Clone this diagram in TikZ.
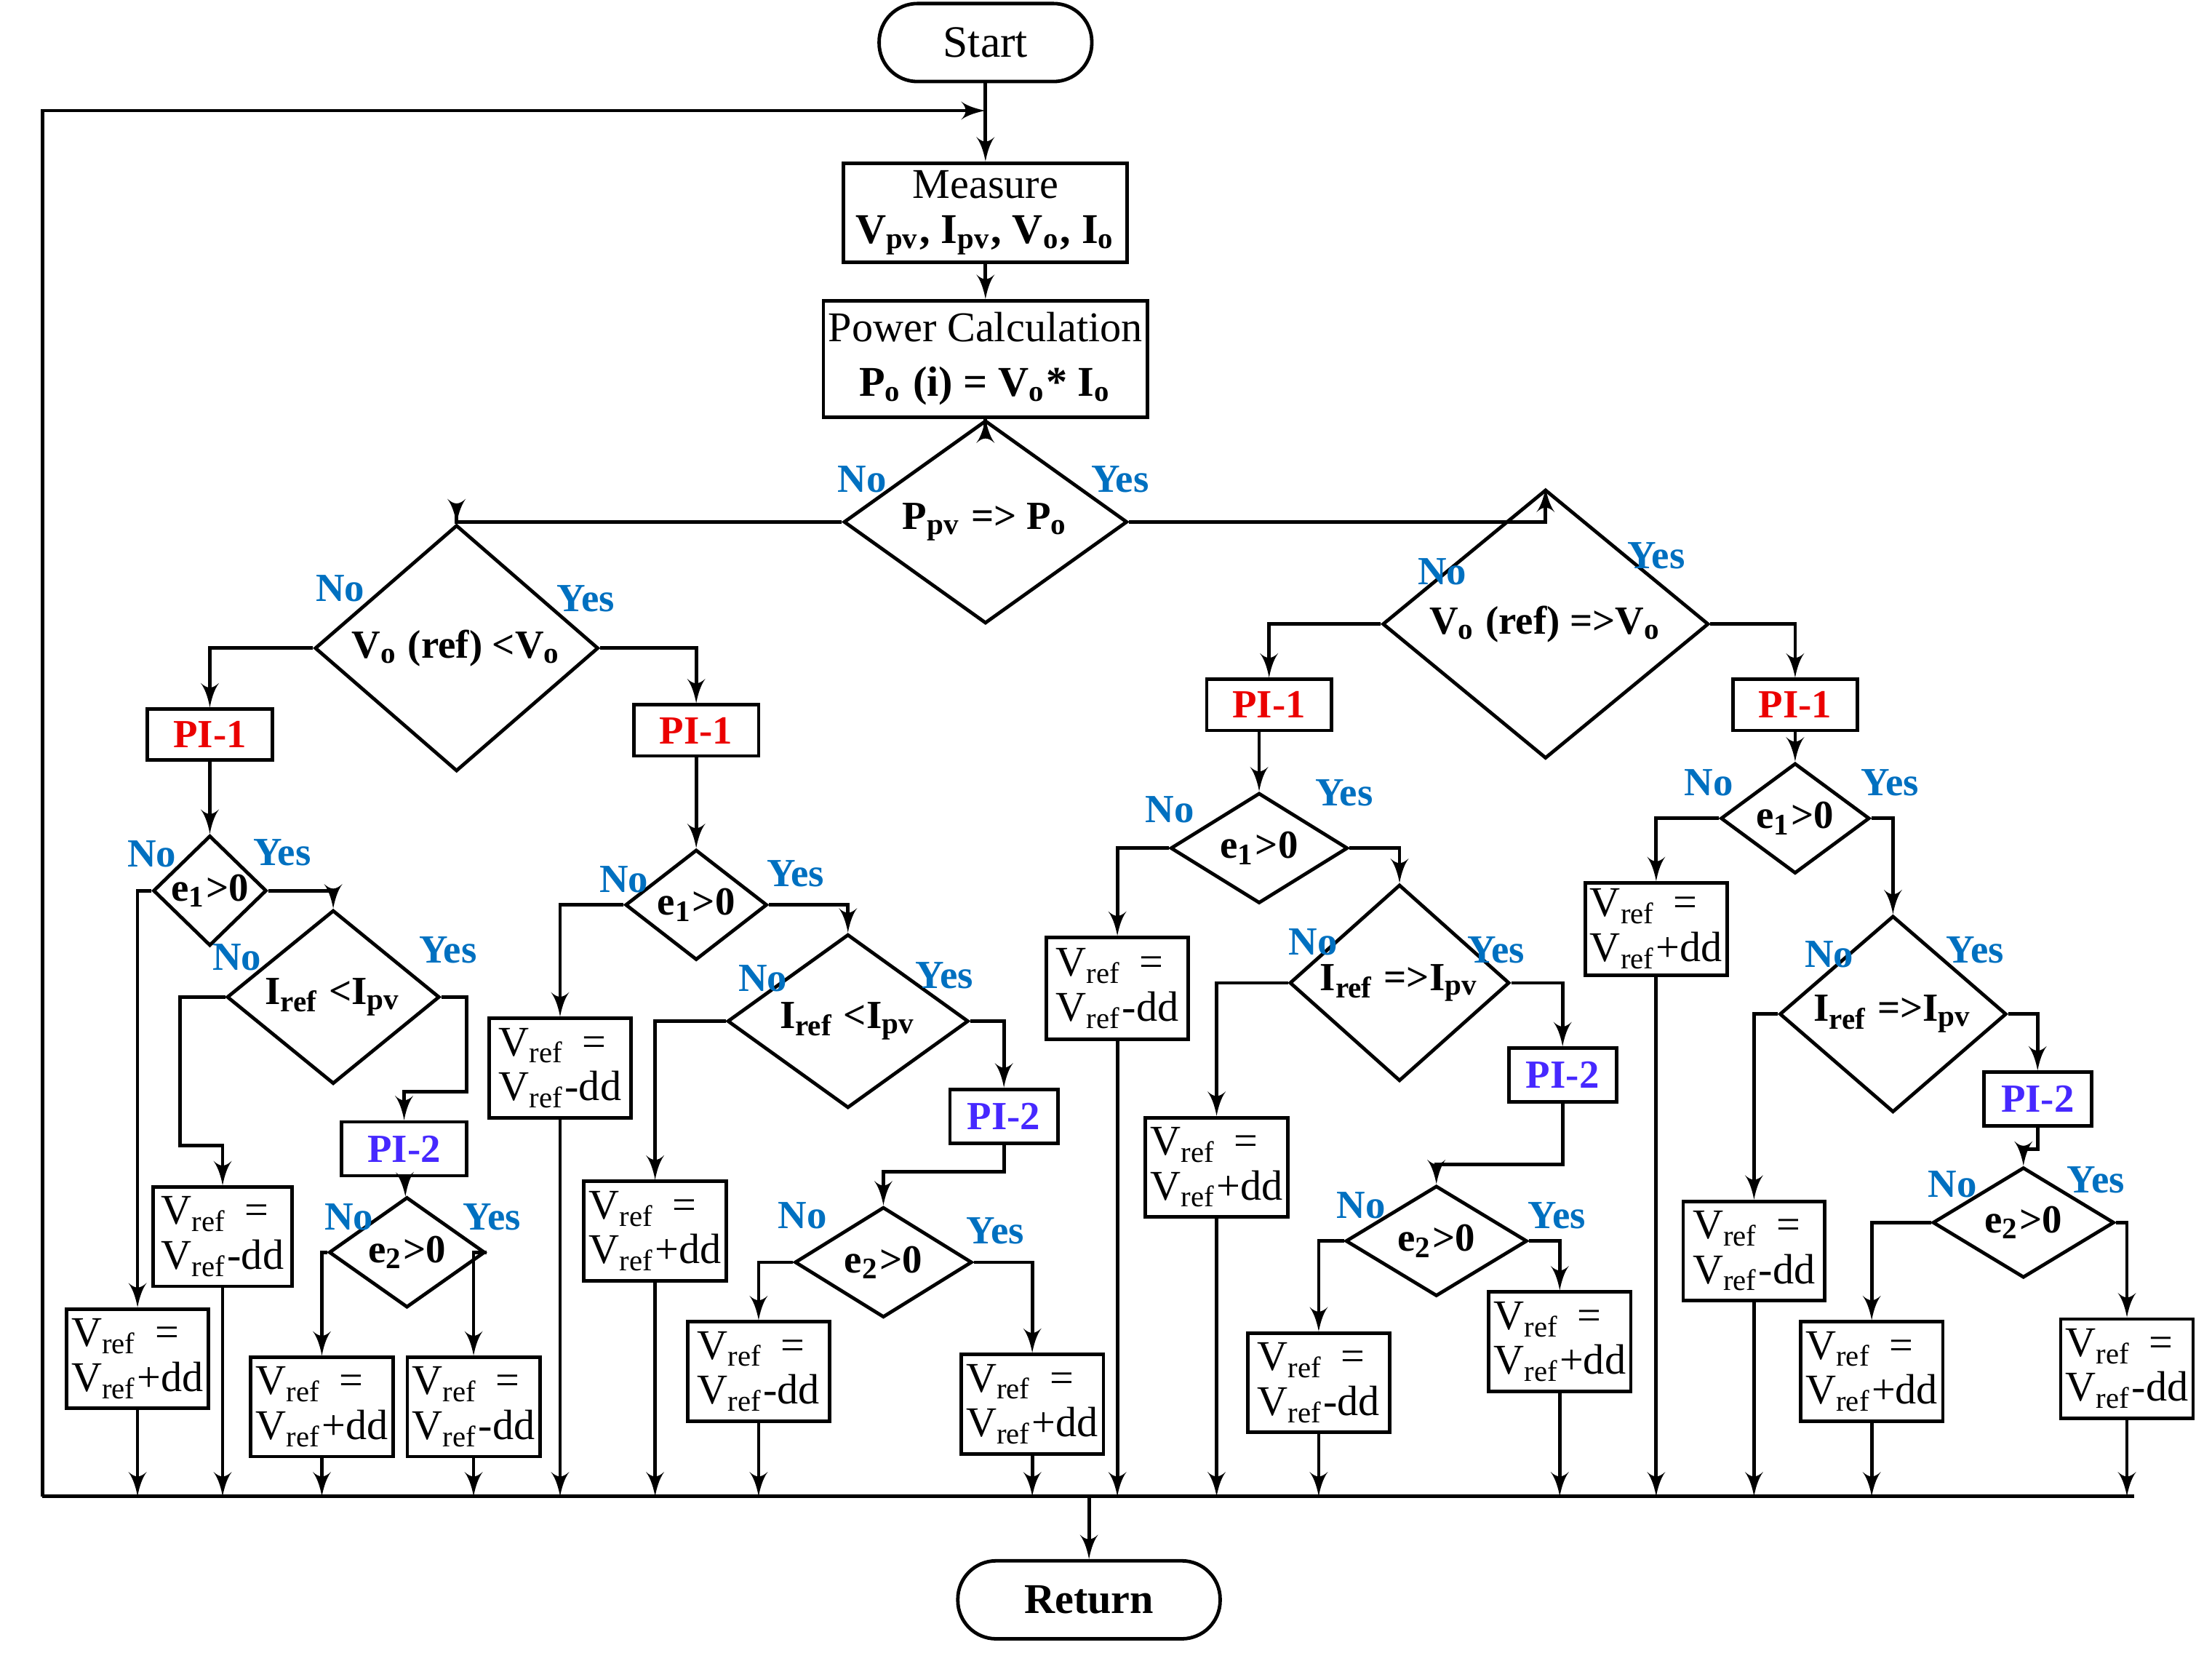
\documentclass[tikz,border=0pt]{standalone}
\usepackage{fontspec}
\setmainfont{Liberation Serif}
\usetikzlibrary{calc,arrows,positioning,shapes.geometric}
\definecolor{lblue}{RGB}{0,112,192}
\definecolor{pired}{RGB}{235,0,0}
\definecolor{pipurple}{RGB}{70,40,255}
\newcommand{\vrf}[1]{V\textsubscript{ref} \,=\\V\textsubscript{ref}#1}
\newcommand{\sub}[1]{\textsubscript{#1}}

\begin{document}
\begin{tikzpicture}[>=latex', x=0.1mm, y=-0.1mm, line width=0.7pt]
			\tikzset{block/.style= {draw, rectangle, align=center, inner sep=1pt, font=\fontsize{8.5}{9}\selectfont},
				vbox/.style= {draw, rectangle, align=left, inner sep=1pt, minimum width=10mm, minimum height=7mm, font=\fontsize{8.5}{9}\selectfont},
				term/.style= {draw, rounded corners=2.7mm, minimum height=5.5mm, font=\fontsize{9}{10}\selectfont},
				dec/.style= {draw, diamond, inner sep=0pt, font=\bfseries\fontsize{8}{9}\selectfont},
				pione/.style= {draw, rectangle, minimum width=8.8mm, minimum height=3.6mm, inner sep=1pt, text=pired, font=\bfseries\fontsize{8}{9}\selectfont},
				pitwo/.style= {pione, minimum width=7.6mm, minimum height=3.8mm, text=pipurple},
				lbl/.style= {text=lblue, font=\bfseries\fontsize{8}{9}\selectfont},
			}
			\useasboundingbox (0,0) rectangle (1560,1165);

			% main line
			\node [term, minimum width=15mm] (start) at (695,30) {Start};
			\node [block, minimum width=20mm, minimum height=7mm] (meas) at (695,150) {Measure\\\textbf{V\sub{pv}, I\sub{pv}, V\sub{o}, I\sub{o}}};
			\node [block, minimum width=21.5mm, minimum height=8.2mm] (pcalc) at (695,253) {Power Calculation\\[2pt]\textbf{P\sub{o} (i) = V\sub{o}* I\sub{o}}};
			\node [dec, minimum width=20mm, minimum height=9.2mm] (d0) at (695,368) {P\sub{pv} => P\sub{o}};
			\node [dec, minimum width=20mm, minimum height=7mm] (dl) at (322,457) {V\sub{o} (ref) <V\sub{o}};
			\node [dec, minimum width=23mm, minimum height=8.5mm] (dr) at (1090,440) {V\sub{o} (ref) =>V\sub{o}};
			\node [term, minimum width=18.5mm, font=\bfseries\fontsize{8.5}{9}\selectfont] (ret) at (768,1128) {Return};

			\node [pione] (piA) at (148,518) {PI-1};
			\node [pione] (piB) at (491,515) {PI-1};
			\node [pione] (piC) at (895,497) {PI-1};
			\node [pione] (piD) at (1266,497) {PI-1};

			% branch A
			\node [dec, minimum width=8mm, minimum height=5.8mm] (eA) at (148,628) {e\sub{1}>0};
			\node [vbox] (bA1) at (97,958) {\vrf{+dd}};
			\node [dec, minimum width=15mm, minimum height=7.5mm] (iA) at (235,703) {I\sub{ref} <I\sub{pv}};
			\node [vbox, minimum width=9.8mm] (bA2) at (157,872) {\vrf{-dd}};
			\node [pitwo, minimum width=8.8mm] (ptA) at (285,810) {PI-2};
			\node [dec, minimum width=11mm, minimum height=5.8mm] (e2A) at (287,883) {e\sub{2}>0};
			\node [vbox, minimum width=9.8mm] (bA3) at (227,992) {\vrf{+dd}};
			\node [vbox, minimum width=8.8mm] (bA4) at (334,992) {\vrf{-dd}};

			% branch B
			\node [dec, minimum width=10mm, minimum height=5.5mm] (eB) at (491,638) {e\sub{1}>0};
			\node [vbox] (bB1) at (395,753) {\vrf{-dd}};
			\node [dec, minimum width=17mm, minimum height=7.5mm] (iB) at (598,720) {I\sub{ref} <I\sub{pv}};
			\node [vbox] (bB2) at (462,868) {\vrf{+dd}};
			\node [pitwo] (ptB) at (708,787) {PI-2};
			\node [dec, minimum width=12.5mm, minimum height=6.2mm] (e2B) at (623,890) {e\sub{2}>0};
			\node [vbox] (bB3) at (535,967) {\vrf{-dd}};
			\node [vbox] (bB4) at (728,990) {\vrf{+dd}};

			% branch C
			\node [dec, minimum width=12.5mm, minimum height=6.2mm] (eC) at (888,598) {e\sub{1}>0};
			\node [vbox, minimum height=7.2mm] (bC1) at (788,697) {\vrf{-dd}};
			\node [dec, minimum width=15.5mm, minimum height=7.5mm] (iC) at (987,693) {I\sub{ref} =>I\sub{pv}};
			\node [vbox] (bC2) at (858,823) {\vrf{+dd}};
			\node [pitwo] (ptC) at (1102,758) {PI-2};
			\node [dec, minimum width=12.8mm, minimum height=6.2mm] (e2C) at (1013,875) {e\sub{2}>0};
			\node [vbox] (bC3) at (930,975) {\vrf{-dd}};
			\node [vbox] (bC4) at (1100,946) {\vrf{+dd}};

			% branch D
			\node [dec, minimum width=10.5mm, minimum height=5mm] (eD) at (1266,577) {e\sub{1}>0};
			\node [vbox, minimum height=6.5mm] (bD1) at (1168,655) {\vrf{+dd}};
			\node [dec, minimum width=16mm, minimum height=8mm] (iD) at (1335,715) {I\sub{ref} =>I\sub{pv}};
			\node [vbox] (bD2) at (1237,882) {\vrf{-dd}};
			\node [pitwo] (ptD) at (1437,775) {PI-2};
			\node [dec, minimum width=12.8mm, minimum height=6mm] (e2D) at (1427,862) {e\sub{2}>0};
			\node [vbox, minimum width=9.8mm] (bD3) at (1320,967) {\vrf{+dd}};
			\node [vbox, minimum width=9mm] (bD4) at (1500,965) {\vrf{-dd}};

			% Yes / No
			\node [lbl] (n0) at (608,338) {No};   \node [lbl] (y0) at (790,338) {Yes};
			\node [lbl] (nl) at (240,415) {No};   \node [lbl] (yl) at (413,422) {Yes};
			\node [lbl] (nr) at (1017,403) {No};  \node [lbl] (yr) at (1168,392) {Yes};
			\node [lbl] (nA1) at (107,602) {No};  \node [lbl] (yA1) at (199,601) {Yes};
			\node [lbl] (nA2) at (167,675) {No};  \node [lbl] (yA2) at (316,670) {Yes};
			\node [lbl] (nA3) at (246,858) {No};  \node [lbl] (yA3) at (347,858) {Yes};
			\node [lbl] (nB1) at (440,620) {No};  \node [lbl] (yB1) at (561,616) {Yes};
			\node [lbl] (nB2) at (538,690) {No};  \node [lbl] (yB2) at (666,688) {Yes};
			\node [lbl] (nB3) at (566,857) {No};  \node [lbl] (yB3) at (702,868) {Yes};
			\node [lbl] (nC1) at (825,571) {No};  \node [lbl] (yC1) at (948,559) {Yes};
			\node [lbl] (nC2) at (926,664) {No};  \node [lbl] (yC2) at (1055,670) {Yes};
			\node [lbl] (nC3) at (960,850) {No};  \node [lbl] (yC3) at (1098,857) {Yes};
			\node [lbl] (nD1) at (1205,552) {No}; \node [lbl] (yD1) at (1333,552) {Yes};
			\node [lbl] (nD2) at (1290,673) {No}; \node [lbl] (yD2) at (1393,670) {Yes};
			\node [lbl] (nD3) at (1377,835) {No}; \node [lbl] (yD3) at (1478,832) {Yes};

			\coordinate (busL) at (30,1055);
			\coordinate (busR) at (1505,1055);
			\coordinate (busM) at (768,1055);
			\coordinate (loopin) at (695,78);

			\path[draw, ->] (start) -- (meas);
			\path[draw, ->] (meas) -- (pcalc);
			\path[draw, ->] (pcalc) -- (d0);
			\path[draw, ->] (d0.west) -| (dl);
			\path[draw, ->] (d0.east) -| (dr);
			\path[draw, ->] (dl.west) -| (piA);
			\path[draw, ->] (dl.east) -| (piB);
			\path[draw, ->] (dr.west) -| (piC);
			\path[draw, ->] (dr.east) -| (piD);

			% A
			\path[draw, ->] (piA) -- (eA);
			\path[draw, ->] (eA.west) -| (bA1);
			\path[draw, ->] (eA.east) -| (iA);
			\path[draw, ->] (iA.west) -- ++(-32,0) |- ($(bA2.north)+(0,-28)$) -- (bA2.north);
			\path[draw, ->] (iA.east) -- ++(18,0) |- ($(ptA.north)+(0,-20)$) -- (ptA.north);
			\path[draw, ->] (ptA) -- (e2A);
			\path[draw, ->] (e2A.west) -| (bA3);
			\path[draw, ->] (e2A.east) -| (bA4);
			% B
			\path[draw, ->] (piB) -- (eB);
			\path[draw, ->] (eB.west) -| (bB1);
			\path[draw, ->] (eB.east) -| (iB);
			\path[draw, ->] (iB.west) -| (bB2);
			\path[draw, ->] (iB.east) -| (ptB);
			\path[draw, ->] (ptB.south) -- ++(0,19) -| (e2B);
			\path[draw, ->] (e2B.west) -| (bB3);
			\path[draw, ->] (e2B.east) -| (bB4);
			% C
			\path[draw, ->] (piC.south -| eC) -- (eC);
			\path[draw, ->] (eC.west) -| (bC1);
			\path[draw, ->] (eC.east) -| (iC);
			\path[draw, ->] (iC.west) -| (bC2);
			\path[draw, ->] (iC.east) -| (ptC);
			\path[draw, ->] (ptC.south) -- ++(0,43) -| (e2C);
			\path[draw, ->] (e2C.west) -| (bC3);
			\path[draw, ->] (e2C.east) -| (bC4);
			% D
			\path[draw, ->] (piD) -- (eD);
			\path[draw, ->] (eD.west) -| (bD1);
			\path[draw, ->] (eD.east) -| (iD);
			\path[draw, ->] (iD.west) -| (bD2);
			\path[draw, ->] (iD.east) -| (ptD);
			\path[draw, ->] (ptD.south) -- ++(0,15) -| (e2D);
			\path[draw, ->] (e2D.west) -| (bD3);
			\path[draw, ->] (e2D.east) -| (bD4);

			% bus and loop
			\path[draw] (busL) -- (busR);
			\foreach \b in {bA1,bA2,bA3,bA4,bB1,bB2,bB3,bB4,bC1,bC2,bC3,bC4,bD1,bD2,bD3,bD4}
				\path[draw, ->] (\b.south) -- (\b.south |- busL);
			\path[draw, ->] (busM) -- (ret);
			\path[draw, ->] (busL) |- (loopin);
		\end{tikzpicture}
\end{document}
